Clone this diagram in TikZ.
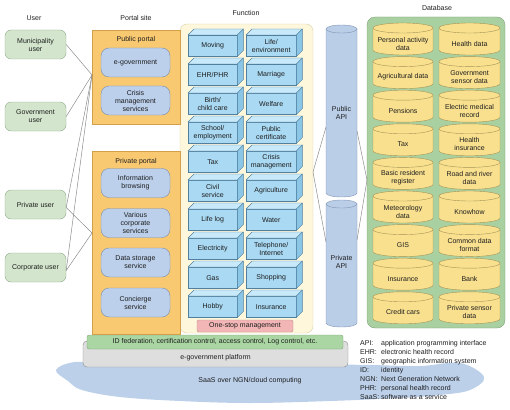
\documentclass[tikz,border=0pt]{standalone}
\usepackage{fontspec}
\setmainfont{Liberation Sans}
\usepackage{tikz}

\definecolor{usergreen}{HTML}{D3E6CD}
\definecolor{userline}{HTML}{8FA88C}
\definecolor{portalorange}{HTML}{F9C972}
\definecolor{portalline}{HTML}{D2A04A}
\definecolor{serviceblue}{HTML}{BCD0EC}
\definecolor{serviceline}{HTML}{7A8DA8}
\definecolor{fnpanel}{HTML}{FEF7DC}
\definecolor{fnpanelline}{HTML}{D8CFA8}
\definecolor{fnblue}{HTML}{A9D9F3}
\definecolor{fnlight}{HTML}{C8E9FA}
\definecolor{fndark}{HTML}{8CC6E6}
\definecolor{fnline}{HTML}{50809E}
\definecolor{apiblue}{HTML}{BACEE8}
\definecolor{apiline}{HTML}{8095B5}
\definecolor{dbgreen}{HTML}{A9D0A0}
\definecolor{dbline}{HTML}{7FA078}
\definecolor{dbyellow}{HTML}{F9E08F}
\definecolor{dbcylline}{HTML}{A69456}
\definecolor{idgreen}{HTML}{AAD6A3}
\definecolor{idline}{HTML}{80A67A}
\definecolor{platgrey}{HTML}{DEDEDE}
\definecolor{platline}{HTML}{8A8A8A}
\definecolor{stoppink}{HTML}{F3B6B6}
\definecolor{stopline}{HTML}{C08A8A}
\definecolor{cloudblue}{HTML}{BCD0EA}
\definecolor{linkgrey}{HTML}{8C8C8C}
\definecolor{textgrey}{HTML}{1E1E1E}

\tikzset{
	every node/.style={font=\fontsize{7}{8}\selectfont, text=textgrey, align=center},
	userbox/.style={draw=userline, fill=usergreen, rounded corners=6pt, minimum width=61pt, minimum height=29pt, inner sep=1pt},
	portalbox/.style={draw=portalline, fill=portalorange, minimum width=88pt, inner sep=0pt},
	servicebox/.style={draw=serviceline, fill=serviceblue, rounded corners=8pt, minimum width=69pt, minimum height=29pt, inner sep=1pt},
	fnfront/.style={draw=fnline, fill=fnblue, minimum width=49pt, minimum height=21pt, anchor=north west, inner sep=0pt},
	fntop/.style={draw=fnline, fill=fnlight, line join=round},
	fnside/.style={draw=fnline, fill=fndark, line join=round},
	dbcyl/.style={draw=dbcylline, fill=dbyellow},
	apicyl/.style={draw=apiline, fill=apiblue},
	link/.style={draw=linkgrey, line width=0.5pt}
}

\begin{document}
\begin{tikzpicture}[x=1pt, y=-1pt]
	\useasboundingbox (0,0) rectangle (510,409);
	
	% Cloud and platform
	\fill[cloudblue] plot[smooth cycle, tension=0.6] coordinates {(56,370) (75,362) (110,364) (200,364) (300,364) (370,365) (420,366) (460,363) (484,377) (470,390) (440,395) (400,398) (330,401) (250,403) (180,401) (120,397) (82,390) (68,381)};
	\node (saas) at (250,381) {SaaS over NGN/cloud computing};
	\node[draw=platline, fill=platgrey, rounded corners=4pt, minimum width=265pt, minimum height=26pt] (platform) at (215.5,354) {};
	\node (platformtxt) at (215.5,358) {e-government platform};
	\node[draw=idline, fill=idgreen, rounded corners=2pt, minimum width=256pt, minimum height=14pt, inner sep=0pt] (idbar) at (215,342) {ID federation, certification control, access control, Log control, etc.};
	
	% Headings
	\node (hduser) at (34,18) {User};
	\node (hdportal) at (136,18) {Portal site};
	\node (hdfunction) at (246,13) {Function};
	\node (hddatabase) at (437,8) {Database};
	
	% Function panel
	\node[draw=fnpanelline, fill=fnpanel, rounded corners=7pt, minimum width=133pt, minimum height=309pt] (fnpanel) at (246.5,178.5) {};
	\foreach \txt [count=\i from 0] in {Moving, EHR/PHR, {Birth/\\child care}, {School/\\employment}, Tax, {Civil\\service}, Life log, Electricity, Gas, Hobby} {
		\node[fnfront] (fa\i) at (188,35+29*\i) {\txt};
		\draw[fntop] (fa\i.north west) -- ++(6,-6) -- ([shift={(6,-6)}]fa\i.north east) -- (fa\i.north east) -- cycle;
		\draw[fnside] (fa\i.north east) -- ++(6,-6) -- ([shift={(6,-6)}]fa\i.south east) -- (fa\i.south east) -- cycle;
	}
	\foreach \txt [count=\i from 0] in {{Life/\\environment}, Marriage, Welfare, {Public\\certificate}, {Crisis\\management}, Agriculture, Water, {Telephone/\\Internet}, Shopping, Insurance} {
		\node[fnfront, minimum width=50pt] (fb\i) at (246,35+29*\i) {\txt};
		\draw[fntop] (fb\i.north west) -- ++(6,-6) -- ([shift={(6,-6)}]fb\i.north east) -- (fb\i.north east) -- cycle;
		\draw[fnside] (fb\i.north east) -- ++(6,-6) -- ([shift={(6,-6)}]fb\i.south east) -- (fb\i.south east) -- cycle;
	}
	\node[draw=stopline, fill=stoppink, rounded corners=1.5pt, minimum width=96pt, minimum height=12pt, inner sep=0pt] (onestop) at (245,326) {One-stop management};
	
	% Portal site
	\node[portalbox, minimum height=94pt] (pubportal) at (136,77) {};
	\node (pubtitle) at (136,40) {Public portal};
	\node[servicebox] (egov) at (135.5,62.5) {e-government};
	\node[servicebox] (crisis) at (135.5,100.5) {Crisis\\management\\services};
	\node[portalbox, minimum height=183pt] (privportal) at (136,242.5) {};
	\node (privtitle) at (136,162) {Private portal};
	\node[servicebox] (infobrowse) at (135.5,183) {Information\\browsing};
	\node[servicebox] (corpservices) at (135.5,223) {Various\\corporate\\services};
	\node[servicebox] (storage) at (135.5,262.5) {Data storage\\service};
	\node[servicebox] (concierge) at (135.5,302.5) {Concierge\\service};
	
	% Users
	\node[userbox] (municipality) at (35.5,44.5) {Municipality\\user};
	\node[userbox] (government) at (35.5,116.5) {Government\\user};
	\node[userbox] (privuser) at (35.5,204.5) {Private user};
	\node[userbox] (corpuser) at (35.5,267.5) {Corporate user};
	\coordinate (pubjoin) at (92,75);
	\coordinate (privjoin) at (92,233);
	\draw[link] (municipality.east) -- (pubjoin);
	\draw[link] (government.east) -- (pubjoin);
	\draw[link] ([yshift=-3pt]privuser.east) -- (pubjoin);
	\draw[link] ([yshift=-3pt]corpuser.east) -- (pubjoin);
	\draw[link] ([yshift=-3pt]privuser.east) -- (privjoin);
	\draw[link] ([yshift=-3pt]corpuser.east) -- (privjoin);
	
	% API cylinders
	\draw[apicyl] (326,29) -- (326,193) arc[start angle=180, end angle=0, x radius=15.5, y radius=4] -- (357,29) -- cycle;
	\draw[apicyl] (341.5,29) ellipse[x radius=15.5, y radius=4];
	\node (pubapi) at (341.5,113) {Public\\API};
	\draw[apicyl] (326,204) -- (326,323) arc[start angle=180, end angle=0, x radius=15.5, y radius=4] -- (357,204) -- cycle;
	\draw[apicyl] (341.5,204) ellipse[x radius=15.5, y radius=4];
	\node (privapi) at (341.5,262) {Private\\API};
	
	% Database
	\node[draw=dbline, fill=dbgreen, rounded corners=8pt, minimum width=138pt, minimum height=311pt] (dbpanel) at (436,172.5) {};
	\foreach \txt [count=\i from 0] in {{Personal activity\\data}, Agricultural data, Pensions, Tax, {Basic resident\\register}, {Meteorology\\data}, GIS, Insurance, Credit cars} {
		\pgfmathsetmacro\ytop{23+33.6*\i}
		\draw[dbcyl] (373,\ytop+5) -- (373,\ytop+27) arc[start angle=180, end angle=0, x radius=30, y radius=5] -- (433,\ytop+5) -- cycle;
		\draw[dbcyl] (403,\ytop+5) ellipse[x radius=30, y radius=5];
		\node (da\i) at (403,\ytop+20.5) {\txt};
	}
	\foreach \txt [count=\i from 0] in {Health data, {Government\\sensor data}, {Electric medical\\record}, {Health\\insurance}, {Road and river\\data}, Knowhow, {Common data\\format}, Bank, {Private sensor\\data}} {
		\pgfmathsetmacro\ytop{23+33.6*\i}
		\draw[dbcyl] (439,\ytop+5) -- (439,\ytop+27) arc[start angle=180, end angle=0, x radius=30.5, y radius=5] -- (500,\ytop+5) -- cycle;
		\draw[dbcyl] (469.5,\ytop+5) ellipse[x radius=30.5, y radius=5];
		\node (db\i) at (469.5,\ytop+20.5) {\txt};
	}
	
	% Links to the APIs
	\coordinate (fnjoin) at (313,172);
	\coordinate (pubin) at (326,127);
	\coordinate (privin) at (326,242);
	\coordinate (pubout) at (357,131);
	\coordinate (privout) at (357,240);
	\coordinate (dbjoin) at (367,180);
	\draw[link] (fnjoin) -- (pubin);
	\draw[link] (fnjoin) -- (privin);
	\draw[link] (pubout) -- (dbjoin);
	\draw[link] (privout) -- (dbjoin);
	
	% Legend
	\node[anchor=north west, inner sep=0pt, align=left] (legend) at (360,339) {\fontsize{7}{9}\selectfont
		\begin{tabular}{@{}p{21pt}@{}l@{}}
			API: & application programming interface\\
			EHR: & electronic health record\\
			GIS: & geographic information system\\
			ID: & identity\\
			NGN: & Next Generation Network\\
			PHR: & personal health record\\
			SaaS: & software as a service
		\end{tabular}};
	
\end{tikzpicture}
\end{document}
